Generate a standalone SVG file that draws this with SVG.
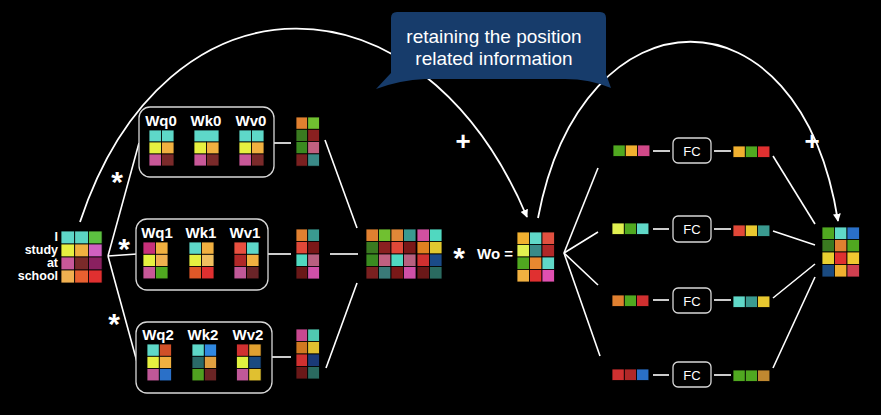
<svg xmlns="http://www.w3.org/2000/svg" width="881" height="415" viewBox="0 0 881 415">
<defs>
<style>
.c{stroke:#000;stroke-width:0.8}
.ln{stroke:#fff;stroke-width:1.6;fill:none}
.arc{stroke:#fff;stroke-width:1.8;fill:none}
.box{fill:#000;stroke:#d8d8d8;stroke-width:1.3}
.lbl{font-family:"Liberation Sans",Arial,sans-serif;font-weight:bold;fill:#fff}
.w{font-family:"Liberation Sans",Arial,sans-serif;font-weight:bold;font-size:15px;fill:#fff;text-anchor:middle}
.fc{font-family:"Liberation Sans",Arial,sans-serif;font-size:13px;fill:#fff;text-anchor:middle}
.op{font-family:"Liberation Sans",Arial,sans-serif;font-weight:bold;fill:#fff;text-anchor:middle}
.co{font-family:"Liberation Sans",Arial,sans-serif;font-size:19px;fill:#fff;text-anchor:middle}
</style>
<marker id="ah" viewBox="0 0 10 10" refX="9" refY="5" markerWidth="8" markerHeight="8" orient="auto" markerUnits="userSpaceOnUse">
<path d="M0,0 L10,5 L0,10 Z" fill="#fff"/>
</marker>
</defs>
<rect width="881" height="415" fill="#000"/>

<g id="connectors">
<path class="arc" d="M80,222 C165,-35 420,-35 527,217" marker-end="url(#ah)"/>
<path class="arc" d="M538,218 C582,-15 800,-20 838,221" marker-end="url(#ah)"/>
<line class="ln" x1="108" y1="256" x2="139" y2="143"/>
<line class="ln" x1="108" y1="256" x2="137" y2="254"/>
<line class="ln" x1="108" y1="256" x2="137" y2="362"/>
<line class="ln" x1="274" y1="143" x2="291" y2="143"/>
<line class="ln" x1="268" y1="254" x2="291" y2="254"/>
<line class="ln" x1="272" y1="357" x2="291" y2="357"/>
<line class="ln" x1="325" y1="140" x2="357" y2="228"/>
<line class="ln" x1="330" y1="254" x2="358" y2="254"/>
<line class="ln" x1="326" y1="368" x2="357" y2="283"/>
<line class="ln" x1="564" y1="253" x2="598" y2="168"/>
<line class="ln" x1="564" y1="253" x2="598" y2="232"/>
<line class="ln" x1="564" y1="253" x2="598" y2="285"/>
<line class="ln" x1="564" y1="253" x2="600" y2="356"/>
<line class="ln" x1="653" y1="151" x2="670" y2="151"/>
<line class="ln" x1="714" y1="151" x2="731" y2="151"/>
<line class="ln" x1="653" y1="229" x2="669" y2="229"/>
<line class="ln" x1="714" y1="229" x2="731" y2="229"/>
<line class="ln" x1="653" y1="300" x2="669" y2="300"/>
<line class="ln" x1="714" y1="300" x2="731" y2="300"/>
<line class="ln" x1="653" y1="375" x2="669" y2="375"/>
<line class="ln" x1="714" y1="375" x2="731" y2="375"/>
<line class="ln" x1="773" y1="156" x2="815" y2="224"/>
<line class="ln" x1="773" y1="231" x2="815" y2="245"/>
<line class="ln" x1="773" y1="298" x2="815" y2="264"/>
<line class="ln" x1="773" y1="368" x2="815" y2="277"/>
</g>

<g id="callout">
<path d="M391,18 Q391,12 397,12 L600,12 Q606,12 606,18 L606,74 L611,88 Q590,79 565,79 L425,79 Q400,80 376,89 L391,73 Z" fill="#173c6b"/>
<text class="co" x="494" y="43">retaining the position</text>
<text class="co" x="494" y="65">related information</text>
</g>

<g id="input">
<text class="lbl" font-size="12.5" text-anchor="end" x="58" y="241">I</text>
<text class="lbl" font-size="12.5" text-anchor="end" x="58" y="254">study</text>
<text class="lbl" font-size="12.5" text-anchor="end" x="58" y="267">at</text>
<text class="lbl" font-size="12.5" text-anchor="end" x="58" y="280">school</text>
<rect class="c" x="61" y="231" width="13.7" height="13" fill="#5ed8c8"/>
<rect class="c" x="74.7" y="231" width="13.7" height="13" fill="#5cd4c2"/>
<rect class="c" x="88.4" y="231" width="13.7" height="13" fill="#5cc040"/>
<rect class="c" x="61" y="244" width="13.7" height="13" fill="#e6f040"/>
<rect class="c" x="74.7" y="244" width="13.7" height="13" fill="#f0b040"/>
<rect class="c" x="88.4" y="244" width="13.7" height="13" fill="#d060c0"/>
<rect class="c" x="61" y="257" width="13.7" height="13" fill="#c85898"/>
<rect class="c" x="74.7" y="257" width="13.7" height="13" fill="#7a2a2a"/>
<rect class="c" x="88.4" y="257" width="13.7" height="13" fill="#8a2060"/>
<rect class="c" x="61" y="270" width="13.7" height="13" fill="#f0b050"/>
<rect class="c" x="74.7" y="270" width="13.7" height="13" fill="#e86030"/>
<rect class="c" x="88.4" y="270" width="13.7" height="13" fill="#e03030"/>
</g>

<g id="ops">
<text class="op" font-size="30" x="117" y="192">*</text>
<text class="op" font-size="30" x="124" y="259">*</text>
<text class="op" font-size="30" x="114" y="334">*</text>
<text class="op" font-size="26" x="463" y="150">+</text>
<text class="op" font-size="26" x="812" y="150">+</text>
</g>

<g id="head0">
<rect class="box" x="139" y="107" width="135" height="70" rx="11"/>
<text class="w" x="161" y="126">Wq0</text>
<text class="w" x="206" y="126">Wk0</text>
<text class="w" x="251" y="126">Wv0</text>
<rect class="c" x="149" y="130" width="12.5" height="12" fill="#5ed8c8"/>
<rect class="c" x="161.5" y="130" width="12.5" height="12" fill="#5ed8c8"/>
<rect class="c" x="149" y="142" width="12.5" height="12" fill="#e6f040"/>
<rect class="c" x="161.5" y="142" width="12.5" height="12" fill="#f0b040"/>
<rect class="c" x="149" y="154" width="12.5" height="12" fill="#c85898"/>
<rect class="c" x="161.5" y="154" width="12.5" height="12" fill="#7a2a2a"/>
<rect class="c" x="194" y="130" width="25" height="12" fill="#5ed8c8"/>
<rect class="c" x="194" y="142" width="12.5" height="12" fill="#e6f040"/>
<rect class="c" x="206.5" y="142" width="12.5" height="12" fill="#f0b040"/>
<rect class="c" x="194" y="154" width="12.5" height="12" fill="#c85898"/>
<rect class="c" x="206.5" y="154" width="12.5" height="12" fill="#7a2a2a"/>
<rect class="c" x="239" y="130" width="12.5" height="12" fill="#5ed8c8"/>
<rect class="c" x="251.5" y="130" width="12.5" height="12" fill="#5ed8c8"/>
<rect class="c" x="239" y="142" width="12.5" height="12" fill="#e6f040"/>
<rect class="c" x="251.5" y="142" width="12.5" height="12" fill="#f0b040"/>
<rect class="c" x="239" y="154" width="12.5" height="12" fill="#c85898"/>
<rect class="c" x="251.5" y="154" width="12.5" height="12" fill="#7a2a2a"/>
</g>

<g id="head1">
<rect class="box" x="136" y="219" width="132" height="71" rx="11"/>
<text class="w" x="157" y="238">Wq1</text>
<text class="w" x="201" y="238">Wk1</text>
<text class="w" x="245" y="238">Wv1</text>
<rect class="c" x="143" y="242" width="12.5" height="12.3" fill="#c8307a"/>
<rect class="c" x="155.5" y="242" width="12.5" height="12.3" fill="#f0b040"/>
<rect class="c" x="143" y="254.3" width="12.5" height="12.3" fill="#e6f040"/>
<rect class="c" x="155.5" y="254.3" width="12.5" height="12.3" fill="#f0b050"/>
<rect class="c" x="143" y="266.6" width="12.5" height="12.3" fill="#c85898"/>
<rect class="c" x="155.5" y="266.6" width="12.5" height="12.3" fill="#50a820"/>
<rect class="c" x="189" y="242" width="12.5" height="12.3" fill="#5ed8c8"/>
<rect class="c" x="201.5" y="242" width="12.5" height="12.3" fill="#f0b040"/>
<rect class="c" x="189" y="254.3" width="12.5" height="12.3" fill="#e6f040"/>
<rect class="c" x="201.5" y="254.3" width="12.5" height="12.3" fill="#f0c060"/>
<rect class="c" x="189" y="266.6" width="12.5" height="12.3" fill="#e05828"/>
<rect class="c" x="201.5" y="266.6" width="12.5" height="12.3" fill="#e03030"/>
<rect class="c" x="234" y="242" width="12.5" height="12.3" fill="#e85040"/>
<rect class="c" x="246.5" y="242" width="12.5" height="12.3" fill="#5ed8c8"/>
<rect class="c" x="234" y="254.3" width="12.5" height="12.3" fill="#b02828"/>
<rect class="c" x="246.5" y="254.3" width="12.5" height="12.3" fill="#f0b040"/>
<rect class="c" x="234" y="266.6" width="12.5" height="12.3" fill="#c05898"/>
<rect class="c" x="246.5" y="266.6" width="12.5" height="12.3" fill="#6a2428"/>
</g>

<g id="head2">
<rect class="box" x="136" y="322" width="136" height="71" rx="11"/>
<text class="w" x="158" y="340">Wq2</text>
<text class="w" x="203" y="340">Wk2</text>
<text class="w" x="248" y="340">Wv2</text>
<rect class="c" x="147" y="344" width="12.3" height="12.3" fill="#5ed8c8"/>
<rect class="c" x="159.3" y="344" width="12.3" height="12.3" fill="#d05028"/>
<rect class="c" x="147" y="356.3" width="12.3" height="12.3" fill="#e6f040"/>
<rect class="c" x="159.3" y="356.3" width="12.3" height="12.3" fill="#f0b040"/>
<rect class="c" x="147" y="368.6" width="12.3" height="12.3" fill="#c05898"/>
<rect class="c" x="159.3" y="368.6" width="12.3" height="12.3" fill="#2a70c8"/>
<rect class="c" x="192" y="344" width="12.3" height="12.3" fill="#5ed8c8"/>
<rect class="c" x="204.3" y="344" width="12.3" height="12.3" fill="#3088e0"/>
<rect class="c" x="192" y="356.3" width="12.3" height="12.3" fill="#2a6a68"/>
<rect class="c" x="204.3" y="356.3" width="12.3" height="12.3" fill="#e0a040"/>
<rect class="c" x="192" y="368.6" width="12.3" height="12.3" fill="#50a020"/>
<rect class="c" x="204.3" y="368.6" width="12.3" height="12.3" fill="#6a2424"/>
<rect class="c" x="236.5" y="344" width="12.3" height="12.3" fill="#d03030"/>
<rect class="c" x="248.8" y="344" width="12.3" height="12.3" fill="#e0a030"/>
<rect class="c" x="236.5" y="356.3" width="12.3" height="12.3" fill="#e0f040"/>
<rect class="c" x="248.8" y="356.3" width="12.3" height="12.3" fill="#1a4a80"/>
<rect class="c" x="236.5" y="368.6" width="12.3" height="12.3" fill="#c05898"/>
<rect class="c" x="248.8" y="368.6" width="12.3" height="12.3" fill="#e0c030"/>
</g>

<g id="z0">
<rect class="c" x="296" y="117" width="11.7" height="12.3" fill="#e08030"/>
<rect class="c" x="307.7" y="117" width="11.7" height="12.3" fill="#70c030"/>
<rect class="c" x="296" y="129.3" width="11.7" height="12.3" fill="#3a7a20"/>
<rect class="c" x="307.7" y="129.3" width="11.7" height="12.3" fill="#8a2020"/>
<rect class="c" x="296" y="141.6" width="11.7" height="12.3" fill="#3a8a20"/>
<rect class="c" x="307.7" y="141.6" width="11.7" height="12.3" fill="#c06080"/>
<rect class="c" x="296" y="153.9" width="11.7" height="12.3" fill="#7a2020"/>
<rect class="c" x="307.7" y="153.9" width="11.7" height="12.3" fill="#3a8a88"/>
</g>
<g id="z1">
<rect class="c" x="296" y="229" width="11.7" height="12.5" fill="#e08030"/>
<rect class="c" x="307.7" y="229" width="11.7" height="12.5" fill="#3a9a90"/>
<rect class="c" x="296" y="241.5" width="11.7" height="12.5" fill="#e04838"/>
<rect class="c" x="307.7" y="241.5" width="11.7" height="12.5" fill="#7a1818"/>
<rect class="c" x="296" y="254" width="11.7" height="12.5" fill="#50d8c0"/>
<rect class="c" x="307.7" y="254" width="11.7" height="12.5" fill="#b86080"/>
<rect class="c" x="296" y="266.5" width="11.7" height="12.5" fill="#6a1818"/>
<rect class="c" x="307.7" y="266.5" width="11.7" height="12.5" fill="#d050a8"/>
</g>
<g id="z2">
<rect class="c" x="296" y="329" width="11.7" height="12.5" fill="#c84890"/>
<rect class="c" x="307.7" y="329" width="11.7" height="12.5" fill="#50c8b0"/>
<rect class="c" x="296" y="341.5" width="11.7" height="12.5" fill="#d07820"/>
<rect class="c" x="307.7" y="341.5" width="11.7" height="12.5" fill="#e0c030"/>
<rect class="c" x="296" y="354" width="11.7" height="12.5" fill="#d03030"/>
<rect class="c" x="307.7" y="354" width="11.7" height="12.5" fill="#1a3a78"/>
<rect class="c" x="296" y="366.5" width="11.7" height="12.5" fill="#6a1818"/>
<rect class="c" x="307.7" y="366.5" width="11.7" height="12.5" fill="#2a6a60"/>
</g>

<g id="concat">
<rect class="c" x="366" y="229" width="12.5" height="12.5" fill="#e08030"/>
<rect class="c" x="378.5" y="229" width="12.5" height="12.5" fill="#70c030"/>
<rect class="c" x="391" y="229" width="12.5" height="12.5" fill="#e08838"/>
<rect class="c" x="403.5" y="229" width="12.5" height="12.5" fill="#3a9a90"/>
<rect class="c" x="417" y="229" width="12.5" height="12.5" fill="#d050a0"/>
<rect class="c" x="429.5" y="229" width="12.5" height="12.5" fill="#50d8c0"/>
<rect class="c" x="366" y="241.5" width="12.5" height="12.5" fill="#3a7a20"/>
<rect class="c" x="378.5" y="241.5" width="12.5" height="12.5" fill="#8a2020"/>
<rect class="c" x="391" y="241.5" width="12.5" height="12.5" fill="#e04838"/>
<rect class="c" x="403.5" y="241.5" width="12.5" height="12.5" fill="#7a1818"/>
<rect class="c" x="417" y="241.5" width="12.5" height="12.5" fill="#e08020"/>
<rect class="c" x="429.5" y="241.5" width="12.5" height="12.5" fill="#e0c830"/>
<rect class="c" x="366" y="254" width="12.5" height="12.5" fill="#3a8a20"/>
<rect class="c" x="378.5" y="254" width="12.5" height="12.5" fill="#c06080"/>
<rect class="c" x="391" y="254" width="12.5" height="12.5" fill="#50d8c0"/>
<rect class="c" x="403.5" y="254" width="12.5" height="12.5" fill="#b86080"/>
<rect class="c" x="417" y="254" width="12.5" height="12.5" fill="#d03030"/>
<rect class="c" x="429.5" y="254" width="12.5" height="12.5" fill="#1a4a88"/>
<rect class="c" x="366" y="266.5" width="12.5" height="12.5" fill="#7a2020"/>
<rect class="c" x="378.5" y="266.5" width="12.5" height="12.5" fill="#3a7a78"/>
<rect class="c" x="391" y="266.5" width="12.5" height="12.5" fill="#7a1818"/>
<rect class="c" x="403.5" y="266.5" width="12.5" height="12.5" fill="#d050a8"/>
<rect class="c" x="417" y="266.5" width="12.5" height="12.5" fill="#6a1818"/>
<rect class="c" x="429.5" y="266.5" width="12.5" height="12.5" fill="#2a6a60"/>
</g>

<g id="wo">
<text class="op" font-size="30" x="459" y="268">*</text>
<text class="lbl" font-size="15" x="477" y="259">Wo =</text>
<rect class="c" x="517" y="232" width="12.5" height="12.5" fill="#f0b030"/>
<rect class="c" x="529.5" y="232" width="12.5" height="12.5" fill="#60d8c8"/>
<rect class="c" x="542" y="232" width="12.5" height="12.5" fill="#e05040"/>
<rect class="c" x="517" y="244.5" width="12.5" height="12.5" fill="#e0f050"/>
<rect class="c" x="529.5" y="244.5" width="12.5" height="12.5" fill="#3a8a88"/>
<rect class="c" x="542" y="244.5" width="12.5" height="12.5" fill="#b02828"/>
<rect class="c" x="517" y="257" width="12.5" height="12.5" fill="#50a820"/>
<rect class="c" x="529.5" y="257" width="12.5" height="12.5" fill="#e88830"/>
<rect class="c" x="542" y="257" width="12.5" height="12.5" fill="#60d8c8"/>
<rect class="c" x="517" y="269.5" width="12.5" height="12.5" fill="#f0b040"/>
<rect class="c" x="529.5" y="269.5" width="12.5" height="12.5" fill="#e03030"/>
<rect class="c" x="542" y="269.5" width="12.5" height="12.5" fill="#e050b0"/>
</g>

<g id="fc0">
<rect class="c" x="613" y="145" width="12.3" height="11.5" fill="#50a820"/>
<rect class="c" x="625.3" y="145" width="12.3" height="11.5" fill="#f0b030"/>
<rect class="c" x="637.6" y="145" width="12.3" height="11.5" fill="#d04888"/>
<rect class="box" x="673" y="138" width="38" height="25" rx="5"/>
<text class="fc" x="692" y="155.5">FC</text>
<rect class="c" x="733" y="146" width="12.3" height="11.5" fill="#f0b030"/>
<rect class="c" x="745.3" y="146" width="12.3" height="11.5" fill="#50a820"/>
<rect class="c" x="757.6" y="146" width="12.3" height="11.5" fill="#e03030"/>
</g>
<g id="fc1">
<rect class="c" x="612" y="223" width="12.3" height="11.5" fill="#e0f050"/>
<rect class="c" x="624.3" y="223" width="12.3" height="11.5" fill="#50a820"/>
<rect class="c" x="636.6" y="223" width="12.3" height="11.5" fill="#60d8c8"/>
<rect class="box" x="673" y="216" width="38" height="26" rx="5"/>
<text class="fc" x="692" y="233.5">FC</text>
<rect class="c" x="733" y="225" width="12.3" height="11.5" fill="#e04838"/>
<rect class="c" x="745.3" y="225" width="12.3" height="11.5" fill="#e8c830"/>
<rect class="c" x="757.6" y="225" width="12.3" height="11.5" fill="#3a9a90"/>
</g>
<g id="fc2">
<rect class="c" x="612" y="295" width="12.3" height="11.5" fill="#e08030"/>
<rect class="c" x="624.3" y="295" width="12.3" height="11.5" fill="#50a820"/>
<rect class="c" x="636.6" y="295" width="12.3" height="11.5" fill="#d03030"/>
<rect class="box" x="673" y="288" width="38" height="25" rx="5"/>
<text class="fc" x="692" y="305.5">FC</text>
<rect class="c" x="733" y="296" width="12.3" height="11.5" fill="#60d8c8"/>
<rect class="c" x="745.3" y="296" width="12.3" height="11.5" fill="#3a9a90"/>
<rect class="c" x="757.6" y="296" width="12.3" height="11.5" fill="#e8c830"/>
</g>
<g id="fc3">
<rect class="c" x="612" y="369" width="12.3" height="11.5" fill="#d03030"/>
<rect class="c" x="624.3" y="369" width="12.3" height="11.5" fill="#b02828"/>
<rect class="c" x="636.6" y="369" width="12.3" height="11.5" fill="#2a70c8"/>
<rect class="box" x="673" y="362" width="38" height="25" rx="5"/>
<text class="fc" x="692" y="379.5">FC</text>
<rect class="c" x="733" y="370" width="12.3" height="11.5" fill="#50a820"/>
<rect class="c" x="745.3" y="370" width="12.3" height="11.5" fill="#50a820"/>
<rect class="c" x="757.6" y="370" width="12.3" height="11.5" fill="#c08830"/>
</g>

<g id="output">
<rect class="c" x="822" y="227" width="12.5" height="12.5" fill="#50a820"/>
<rect class="c" x="834.5" y="227" width="12.5" height="12.5" fill="#60d8c8"/>
<rect class="c" x="847" y="227" width="12.5" height="12.5" fill="#2a70c8"/>
<rect class="c" x="822" y="239.5" width="12.5" height="12.5" fill="#3a7a20"/>
<rect class="c" x="834.5" y="239.5" width="12.5" height="12.5" fill="#e08030"/>
<rect class="c" x="847" y="239.5" width="12.5" height="12.5" fill="#50a820"/>
<rect class="c" x="822" y="252" width="12.5" height="12.5" fill="#e8d030"/>
<rect class="c" x="834.5" y="252" width="12.5" height="12.5" fill="#e03030"/>
<rect class="c" x="847" y="252" width="12.5" height="12.5" fill="#f0c830"/>
<rect class="c" x="822" y="264.5" width="12.5" height="12.5" fill="#1a4a80"/>
<rect class="c" x="834.5" y="264.5" width="12.5" height="12.5" fill="#f0b030"/>
<rect class="c" x="847" y="264.5" width="12.5" height="12.5" fill="#d04050"/>
</g>
</svg>
